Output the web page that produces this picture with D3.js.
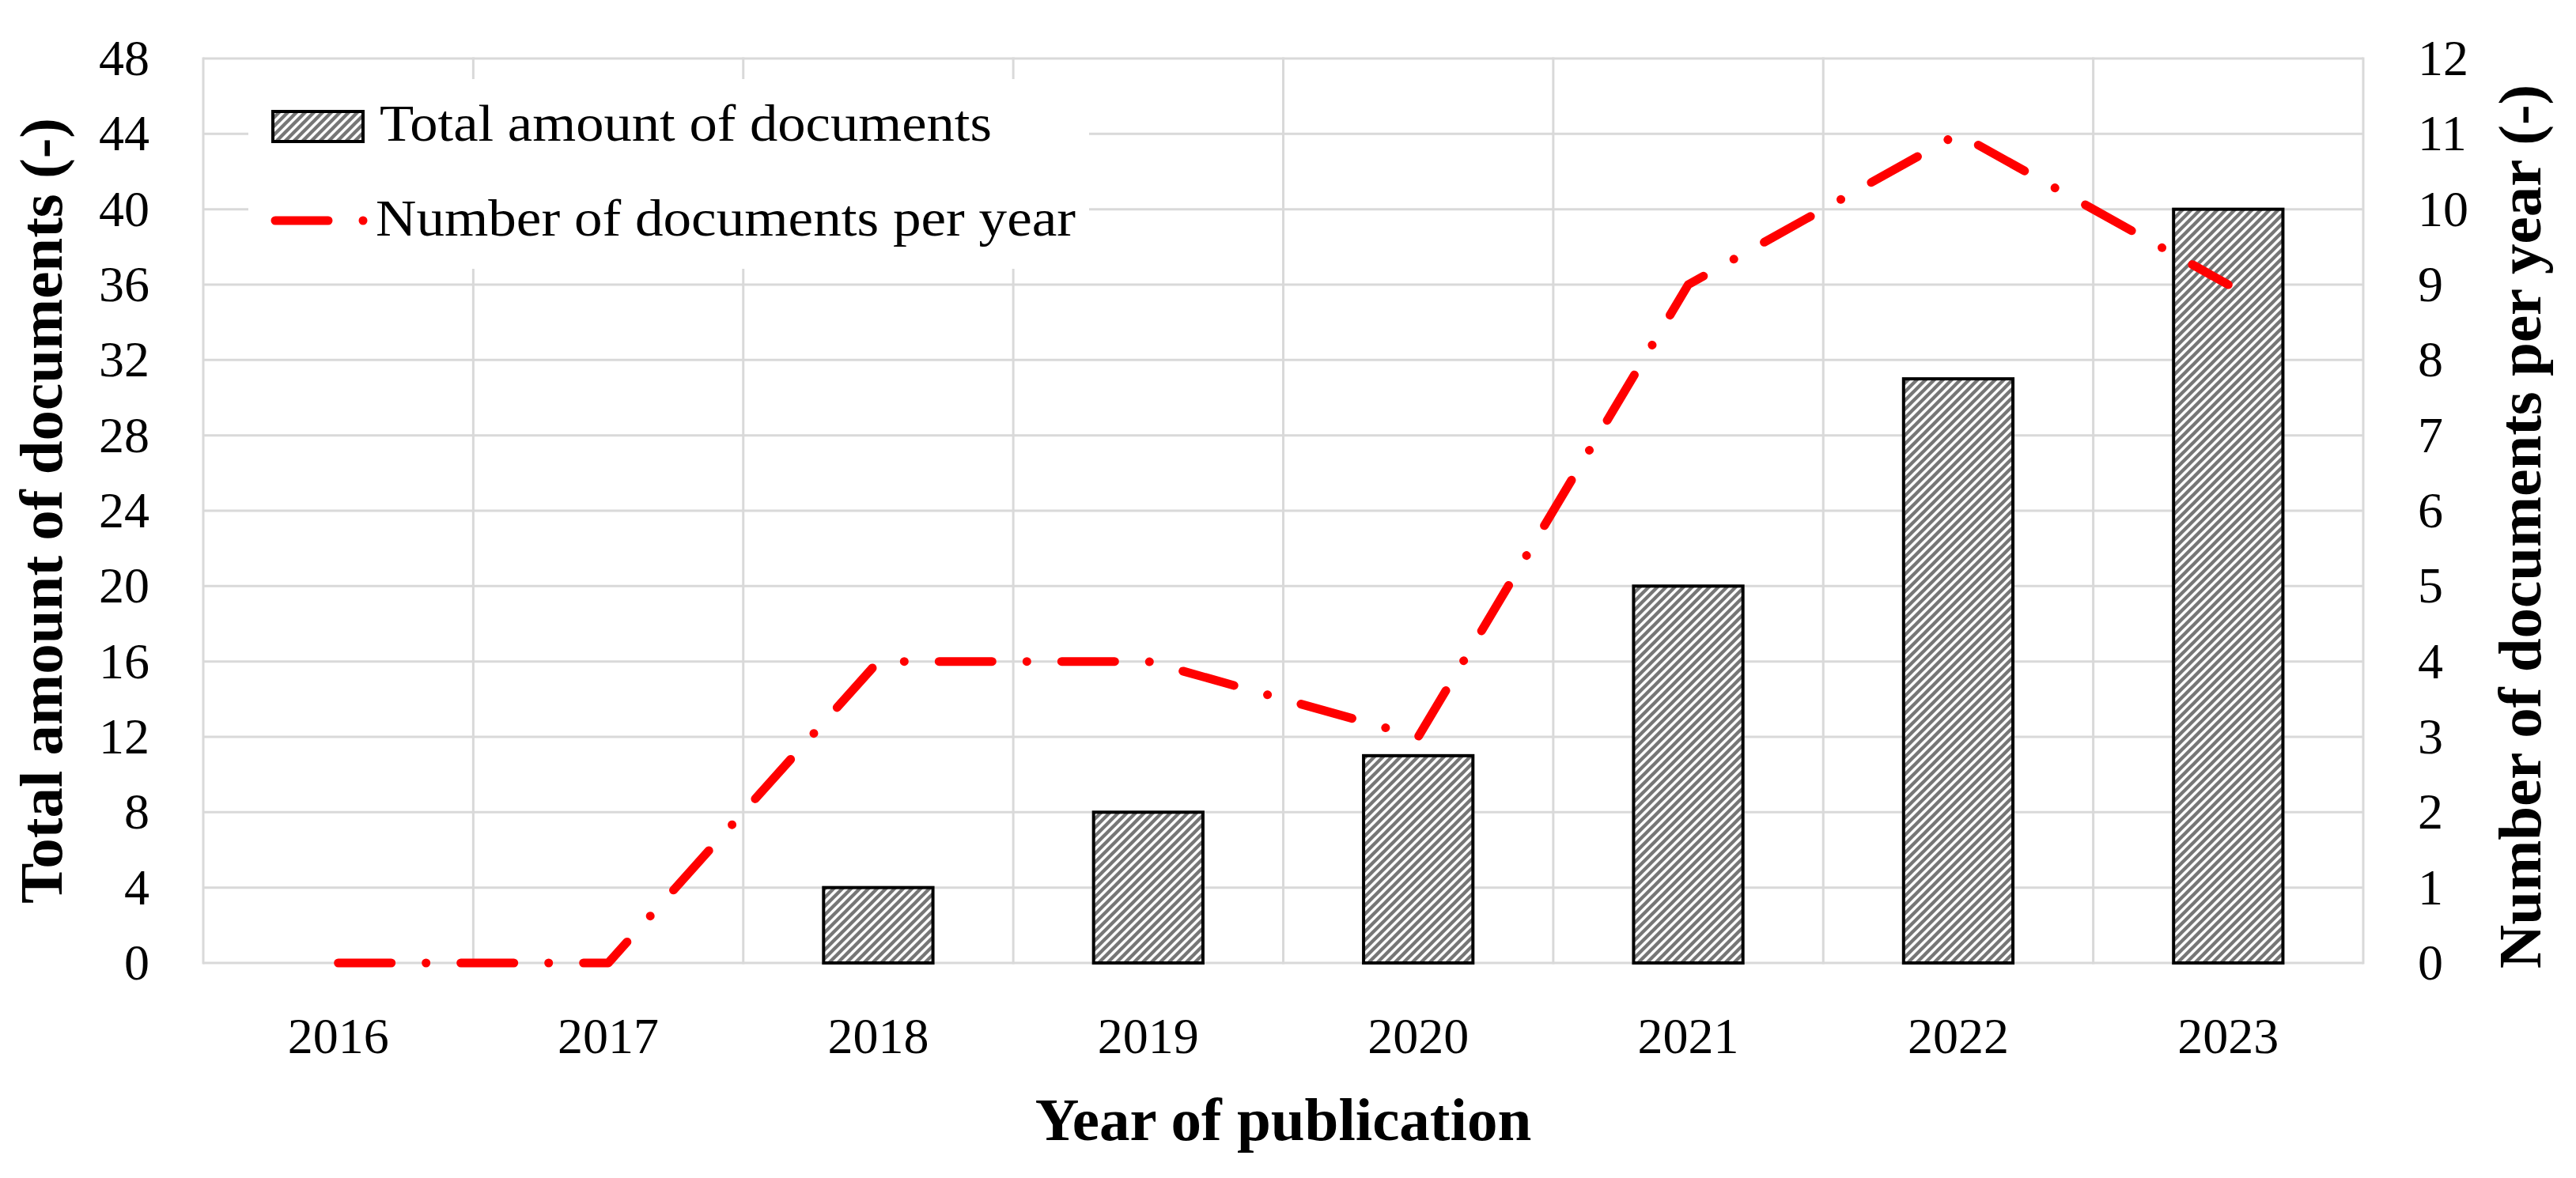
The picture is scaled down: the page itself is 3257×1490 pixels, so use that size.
<!DOCTYPE html>
<html>
<head>
<meta charset="utf-8">
<script src="https://cdn.jsdelivr.net/npm/d3@7/dist/d3.min.js"></script>
<style>
  html, body { margin: 0; padding: 0; background: #ffffff; }
  svg { display: block; }
  text { font-family: "Liberation Serif", "Times New Roman", serif; fill: #000; }
</style>
</head>
<body>
<svg id="chart" width="3257" height="1490"></svg>
<script>
// ---- data ----
const years = ["2016", "2017", "2018", "2019", "2020", "2021", "2022", "2023"];
const totalDocuments = [0, 0, 4, 8, 11, 20, 31, 40];
const documentsPerYear = [0, 0, 4, 4, 3, 9, 11, 9];
const leftTicks = [0, 4, 8, 12, 16, 20, 24, 28, 32, 36, 40, 44, 48];
const rightTicks = [0, 1, 2, 3, 4, 5, 6, 7, 8, 9, 10, 11, 12];
const seriesNames = ["Total amount of documents", "Number of documents per year"];
const xTitle = "Year of publication";
const yLeftTitle = "Total amount of documents (-)";
const yRightTitle = "Number of documents per year (-)";

// ---- layout ----
const W = 3257, H = 1490;
const plot = { left: 257, right: 2988, top: 74, bottom: 1218 };
const gridColor = "#d9d9d9";

const svg = d3.select("#chart");

const x = d3.scaleBand()
  .domain(years)
  .range([plot.left, plot.right])
  .paddingInner(0.595)
  .paddingOuter(0.2975);
const step = x.step();
const xc = d => x(d) + x.bandwidth() / 2;

const yL = d3.scaleLinear().domain([0, 48]).range([plot.bottom, plot.top]);
const yR = d3.scaleLinear().domain([0, 12]).range([plot.bottom, plot.top]);

// ---- pattern ----
const defs = svg.append("defs");
const s = 11;
const pat = defs.append("pattern")
  .attr("id", "diag")
  .attr("patternUnits", "userSpaceOnUse")
  .attr("width", s).attr("height", s);
pat.append("rect").attr("width", s).attr("height", s).attr("fill", "#ffffff");
pat.append("path")
  .attr("d", `M${-s},${s} L${s},${-s} M0,${2*s} L${2*s},0 M${-s},${2*s} L${2*s},${-s}`)
  .attr("stroke", "#767676")
  .attr("stroke-width", 0.56 * s / Math.SQRT2)
  .attr("fill", "none");

// ---- gridlines ----
const grid = svg.append("g").attr("class", "grid");
grid.selectAll("line.h").data(leftTicks).join("line")
  .attr("class", "h")
  .attr("x1", plot.left).attr("x2", plot.right)
  .attr("y1", d => yL(d)).attr("y2", d => yL(d))
  .attr("stroke", gridColor).attr("stroke-width", 3);
const boundaries = years.map(d => x(d) - (step - x.bandwidth()) / 2).concat([plot.right]);
grid.selectAll("line.v").data(boundaries).join("line")
  .attr("class", "v")
  .attr("x1", d => d).attr("x2", d => d)
  .attr("y1", plot.top - 1.5).attr("y2", plot.bottom + 1.5)
  .attr("stroke", gridColor).attr("stroke-width", 3);

// ---- bars ----
const barData = years.map((y, i) => ({ year: y, v: totalDocuments[i] })).filter(d => d.v > 0);
svg.append("g").selectAll("rect").data(barData).join("rect")
  .attr("x", d => x(d.year))
  .attr("width", x.bandwidth())
  .attr("y", d => yL(d.v))
  .attr("height", d => yL(0) - yL(d.v))
  .attr("fill", "url(#diag)")
  .attr("stroke", "#000")
  .attr("stroke-width", 4);

// ---- line ----
const lineData = years.map((y, i) => ({ year: y, v: documentsPerYear[i] }));
const lineGen = d3.line().x(d => xc(d.year)).y(d => yR(d.v));
const dash = "67,44,0.01,44";
svg.append("path")
  .datum(lineData)
  .attr("d", lineGen)
  .attr("fill", "none")
  .attr("stroke", "#ff0000")
  .attr("stroke-width", 11)
  .attr("stroke-linecap", "round")
  .attr("stroke-linejoin", "round")
  .attr("stroke-dasharray", dash);

// ---- axes (labels only) ----
const axL = svg.append("g")
  .attr("transform", `translate(${plot.left},0)`)
  .call(d3.axisLeft(yL).tickValues(leftTicks).tickSize(0).tickPadding(68).tickFormat(d3.format("d")));
const axR = svg.append("g")
  .attr("transform", `translate(${plot.right},0)`)
  .call(d3.axisRight(yR).tickValues(rightTicks).tickSize(0).tickPadding(69).tickFormat(d3.format("d")));
const axB = svg.append("g")
  .attr("transform", `translate(0,${plot.bottom})`)
  .call(d3.axisBottom(x).tickSize(0).tickPadding(69));
[axL, axR, axB].forEach(g => {
  g.select(".domain").remove();
  g.selectAll("text")
    .attr("font-family", "\"Liberation Serif\", \"Times New Roman\", serif")
    .attr("font-size", 64)
    .attr("fill", "#000");
});

// ---- axis titles ----
svg.append("text")
  .attr("x", (plot.left + plot.right) / 2)
  .attr("y", 1442)
  .attr("text-anchor", "middle")
  .attr("font-size", 77)
  .attr("font-weight", "bold")
  .text(xTitle);

svg.append("text")
  .attr("transform", `translate(78,${(plot.top + plot.bottom) / 2}) rotate(-90)`)
  .attr("text-anchor", "middle")
  .attr("font-size", 77)
  .attr("font-weight", "bold")
  .text(yLeftTitle);

svg.append("text")
  .attr("transform", `translate(3212,666) rotate(-90)`)
  .attr("text-anchor", "middle")
  .attr("font-size", 77)
  .attr("font-weight", "bold")
  .text(yRightTitle);

// ---- legend ----
const lg = svg.append("g").attr("class", "legend");
lg.append("rect")
  .attr("x", 314).attr("y", 100)
  .attr("width", 1377 - 314).attr("height", 240)
  .attr("fill", "#ffffff");
lg.append("rect")
  .attr("x", 345).attr("y", 141)
  .attr("width", 114).attr("height", 38)
  .attr("fill", "url(#diag)")
  .attr("stroke", "#000").attr("stroke-width", 4);
lg.append("text")
  .attr("x", 480).attr("y", 178)
  .attr("font-size", 66)
  .attr("textLength", 774)
  .attr("lengthAdjust", "spacingAndGlyphs")
  .text(seriesNames[0]);
lg.append("path")
  .attr("d", d3.line()([[348, 279], [464, 279]]))
  .attr("fill", "none")
  .attr("stroke", "#ff0000")
  .attr("stroke-width", 11)
  .attr("stroke-linecap", "round")
  .attr("stroke-dasharray", dash);
lg.append("text")
  .attr("x", 475).attr("y", 298)
  .attr("font-size", 66)
  .attr("textLength", 885)
  .attr("lengthAdjust", "spacingAndGlyphs")
  .text(seriesNames[1]);
</script>
</body>
</html>
